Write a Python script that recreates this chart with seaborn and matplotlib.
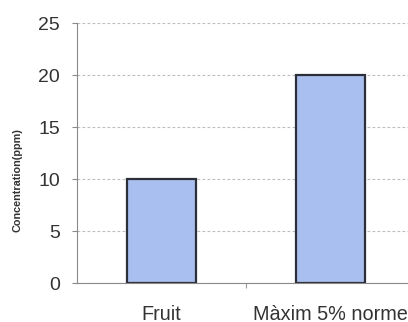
import matplotlib
matplotlib.use("Agg")
import matplotlib.pyplot as plt
import seaborn as sns
import pandas as pd

# Data
categories = ["Fruit", "Màxim 5% norme"]
concentration = [10, 20]
y_ticks = [0, 5, 10, 15, 20, 25]

df = pd.DataFrame({"categoria": categories, "ppm": concentration})

sns.set_theme(style="white")
plt.rcParams["font.family"] = ["Liberation Sans", "DejaVu Sans"]

fig = plt.figure(figsize=(4.08, 3.22), dpi=100)
W, H = 408, 322
ax = fig.add_axes([77 / W, (H - 283) / H, (415 - 77) / W, (283 - 23) / H])

sns.barplot(data=df, x="categoria", y="ppm", ax=ax, color="#A9BFEF",
            width=0.41, edgecolor="#2b2f38", linewidth=1.6, saturation=1)

ax.set_xlim(-0.5, 1.5)
ax.set_ylim(0, 25)
ax.set_yticks(y_ticks)
ax.set_yticklabels([str(v) for v in y_ticks], fontsize=14, color="#333333")
ax.set_xticks([0, 1])
ax.set_xticklabels(categories, fontsize=14.3, color="#333333")
ax.set_xticks([0.5], minor=True)

ax.tick_params(axis="y", which="major", left=True, length=3.6, width=0.8,
               color="#8a8a8a", pad=8.6)
ax.tick_params(axis="x", which="major", bottom=False, length=0, pad=15.5)
ax.tick_params(axis="x", which="minor", bottom=True, length=3.6, width=0.8,
               color="#9a9a9a")

# Dashed horizontal gridlines
ax.yaxis.grid(True, linestyle=(0, (2.5, 2)), color="#bdbdbd", linewidth=0.8)
ax.set_axisbelow(True)

for side in ["top", "right"]:
    ax.spines[side].set_visible(False)
for side in ["left", "bottom"]:
    ax.spines[side].set_color("#8a8a8a")
    ax.spines[side].set_linewidth(0.8)

ax.set_xlabel("")
ax.set_ylabel("")
fig.text(18 / W, 1 - 180 / H, "Concentration(ppm)", rotation=90,
         ha="center", va="center", fontsize=7.8, fontweight="bold",
         color="#333333")

fig.savefig("out.png", dpi=100, facecolor="white")
